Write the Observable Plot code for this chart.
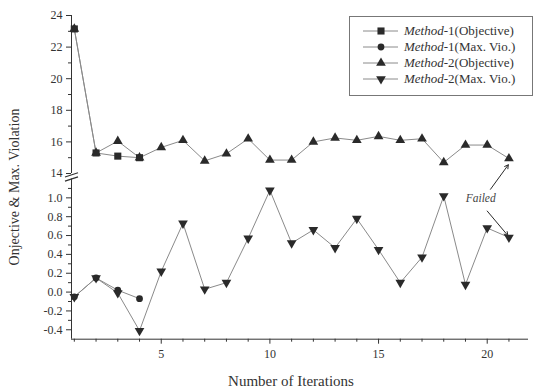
<!DOCTYPE html>
<html><head><meta charset="utf-8">
<script src="https://cdn.jsdelivr.net/npm/d3@7"></script>
<script src="https://cdn.jsdelivr.net/npm/@observablehq/plot@0.6"></script>
<style>
body{margin:0;background:#fff;}
#wrap{position:relative;width:539px;height:390px;overflow:hidden;background:#fff;font-family:"Liberation Serif","Times New Roman",serif;color:#333;}
#wrap > svg{position:absolute;left:0;top:0;}
#wrap svg text{font-family:"Liberation Serif","Times New Roman",serif;}
#ylab{position:absolute;left:15px;top:187px;transform:translate(-50%,-50%) rotate(-90deg);font-size:14px;white-space:nowrap;}
#xlab{position:absolute;left:291px;top:381px;transform:translate(-50%,-50%);font-size:15px;white-space:nowrap;}
#legend{position:absolute;left:349px;top:16px;width:182px;height:72px;border:1px solid #777;padding-top:6px;box-sizing:content-box;}
#legend .row{display:flex;align-items:center;height:16px;font-size:13px;}
#legend .row svg{flex:none;}
#legend .row span{margin-left:4px;white-space:nowrap;}
</style></head>
<body><div id="wrap"></div>
<script>
// ---- data ----
const iterations = [1,2,3,4,5,6,7,8,9,10,11,12,13,14,15,16,17,18,19,20,21];
const m1Iterations = [1,2,3,4];
const m1Objective = [23.15, 15.3, 15.1, 15.0];
const m1MaxVio = [-0.05, 0.15, 0.02, -0.07];
const m2Objective = [23.15, 15.3, 16.05, 15.0, 15.65, 16.1, 14.8, 15.25, 16.2, 14.85, 14.85, 16.0, 16.25, 16.1, 16.35, 16.1, 16.2, 14.7, 15.8, 15.8, 14.95];
const m2MaxVio = [-0.05, 0.15, -0.01, -0.41, 0.22, 0.73, 0.03, 0.10, 0.57, 1.08, 0.52, 0.66, 0.47, 0.78, 0.45, 0.10, 0.37, 1.02, 0.08, 0.68, 0.58];
const seriesNames = ["Method-1(Objective)", "Method-1(Max. Vio.)", "Method-2(Objective)", "Method-2(Max. Vio.)"];
const topMajor = [14,16,18,20,22,24];
const topMinor = [15,17,19,21,23];
const botMajor = [-0.4,-0.2,0.0,0.2,0.4,0.6,0.8,1.0];
const botMinor = [-0.3,-0.1,0.1,0.3,0.5,0.7,0.9,1.1];
const xMajor = [5,10,15,20];
const xMinor = [1,2,3,4,6,7,8,9,11,12,13,14,16,17,18,19,21];
const failedLabel = [{x: 19.7, y: 1.0, text: "Failed"}];
const failedArrowTop = [{x1: 20.15, y1: 13.0, x2: 20.97, y2: 14.55}];
const failedArrowBottom = [{x1: 20.0, y1: 0.86, x2: 20.95, y2: 0.6}];

// ---- tables ----
const m1Obj = m1Iterations.map((x,i)=>({x, y: m1Objective[i]}));
const m1Vio = m1Iterations.map((x,i)=>({x, y: m1MaxVio[i]}));
const m2Obj = iterations.map((x,i)=>({x, y: m2Objective[i]}));
const m2Vio = iterations.map((x,i)=>({x, y: m2MaxVio[i]}));

const W = 539, H = 390;
const xDomain = [0.87, 21.9];
const ink = "#2a2a2a", lineC = "#8a8a8a", axisC = "#333";
const font = "Liberation Serif";
const style = {background:"transparent", fontFamily: font, fontSize:"12px", color: axisC, overflow:"visible"};
const rSq = 4.0, rCi = 3.4, rTri = 3.6;

const breakMarks = [
  {x1: xDomain[0]-0.3, y1: 13.78, x2: xDomain[0]+0.3, y2: 14.05},
  {x1: xDomain[0]-0.3, y1: 13.52, x2: xDomain[0]+0.3, y2: 13.79}
];

const topPlot = Plot.plot({
  width: W, height: H,
  marginLeft: 71, marginRight: 11, marginTop: 15, marginBottom: H - 173,
  x: {domain: xDomain, axis: null},
  y: {domain: [14, 24]},
  style,
  marks: [
    Plot.ruleX([xDomain[0]], {stroke: axisC}),
    Plot.axisY({ticks: topMajor, tickSize: 5, tickPadding: 4, tickFormat: d => String(d), label: null, stroke: axisC, fill: axisC, fontSize: 12, fontFamily: font}),
    Plot.axisY({ticks: topMinor, tickSize: 3, tickFormat: () => "", label: null, stroke: axisC}),
    Plot.link(breakMarks, {x1:"x1", y1:"y1", x2:"x2", y2:"y2", stroke: axisC, strokeWidth: 1.2}),
    Plot.line(m2Obj, {x:"x", y:"y", stroke: lineC, strokeWidth: 1}),
    Plot.line(m1Obj, {x:"x", y:"y", stroke: lineC, strokeWidth: 1}),
    Plot.dot(m2Obj, {x:"x", y:"y", symbol:"triangle", r: rTri, fill: ink, stroke: "none"}),
    Plot.dot(m1Obj, {x:"x", y:"y", symbol:"square", r: rSq, fill: ink, stroke: "none"}),
    Plot.arrow(failedArrowTop, {x1:"x1", y1:"y1", x2:"x2", y2:"y2", stroke: ink, strokeWidth: 1, headLength: 6})
  ]
});

const botPlot = Plot.plot({
  width: W, height: H,
  marginLeft: 71, marginRight: 11, marginTop: 178.5, marginBottom: H - 338.7,
  x: {domain: xDomain},
  y: {domain: [-0.5, 1.2]},
  style,
  marks: [
    Plot.ruleX([xDomain[0]], {stroke: axisC}),
    Plot.ruleY([-0.5], {stroke: axisC}),
    Plot.axisY({ticks: botMajor, tickSize: 5, tickPadding: 4, tickFormat: d => d.toFixed(1), label: null, stroke: axisC, fill: axisC, fontSize: 12, fontFamily: font}),
    Plot.axisY({ticks: botMinor, tickSize: 3, tickFormat: () => "", label: null, stroke: axisC}),
    Plot.axisX({ticks: xMajor, tickSize: 5, tickPadding: 5, tickFormat: d => String(d), label: null, stroke: axisC, fill: axisC, fontSize: 12, fontFamily: font}),
    Plot.axisX({ticks: xMinor, tickSize: 3, tickFormat: () => "", label: null, stroke: axisC}),
    Plot.line(m2Vio, {x:"x", y:"y", stroke: lineC, strokeWidth: 1}),
    Plot.line(m1Vio, {x:"x", y:"y", stroke: lineC, strokeWidth: 1}),
    Plot.dot(m1Vio, {x:"x", y:"y", symbol:"circle", r: rCi, fill: ink, stroke: "none"}),
    Plot.dot(m2Vio, {x:"x", y:"y", symbol:"triangle", rotate: 180, r: rTri, fill: ink, stroke: "none"}),
    Plot.arrow(failedArrowBottom, {x1:"x1", y1:"y1", x2:"x2", y2:"y2", stroke: ink, strokeWidth: 1, headLength: 6}),
    Plot.text(failedLabel, {x:"x", y:"y", text:"text", fontStyle:"italic", fontSize: 11.5, fill: "#444", fontFamily: font})
  ]
});

const wrap = document.getElementById("wrap");
wrap.appendChild(botPlot);
wrap.appendChild(topPlot);

const yl = document.createElement("div"); yl.id = "ylab"; yl.textContent = "Onjective & Max. Violation"; wrap.appendChild(yl);
const xl = document.createElement("div"); xl.id = "xlab"; xl.textContent = "Number of Iterations"; wrap.appendChild(xl);

// legend
const legend = document.createElement("div"); legend.id = "legend";
const symDefs = [
  {type: d3.symbolSquare, r: rSq, rot: 0},
  {type: d3.symbolCircle, r: rCi, rot: 0},
  {type: d3.symbolTriangle, r: rTri, rot: 0},
  {type: d3.symbolTriangle, r: rTri, rot: 180}
];
seriesNames.forEach((name, i) => {
  const row = document.createElement("div"); row.className = "row";
  const s = d3.create("svg").attr("width", 50).attr("height", 16);
  s.append("line").attr("x1", 13).attr("x2", 48).attr("y1", 8).attr("y2", 8).attr("stroke", lineC).attr("stroke-width", 1);
  const sd = symDefs[i];
  s.append("path").attr("d", d3.symbol(sd.type, sd.r*sd.r*Math.PI)())
    .attr("transform", `translate(31,8) rotate(${sd.rot})`).attr("fill", ink);
  row.appendChild(s.node());
  const t = document.createElement("span");
  const m = name.match(/^(Method)(.*)$/);
  const it = document.createElement("i"); it.textContent = m[1];
  t.appendChild(it); t.appendChild(document.createTextNode(m[2]));
  row.appendChild(t);
  legend.appendChild(row);
});
wrap.appendChild(legend);
</script>
</body></html>
